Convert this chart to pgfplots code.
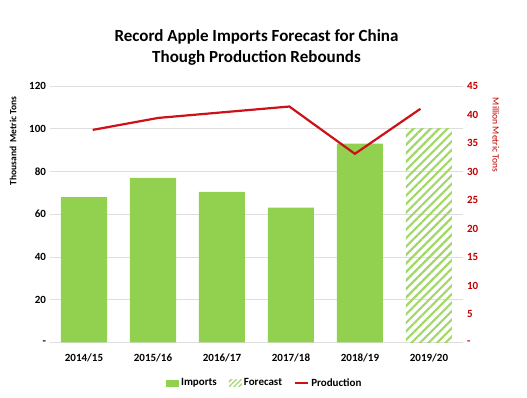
\documentclass[border=0pt]{standalone}
\usepackage{pgfplots}
\pgfplotsset{compat=1.18}
\usepackage{fontspec}
\setmainfont{Carlito}
\usetikzlibrary{patterns.meta}
\definecolor{barg}{HTML}{92D050}
\definecolor{linered}{HTML}{CC1119}
\definecolor{axred}{HTML}{C00000}
\begin{document}
\begin{tikzpicture}[x=1pt,y=1pt]
\useasboundingbox (0,0) rectangle (527,398);
\begin{axis}[
  at={(49.5pt,55.5pt)}, anchor=south west,
  scale only axis, width=414pt, height=256.5pt,
  xmin=-0.5, xmax=5.5, ymin=0, ymax=120,
  axis y line*=left, axis x line*=bottom,
  axis line style={draw=none},
  ytick={0,20,...,120}, yticklabels={-,20,40,60,80,100,120},
  xtick={0,...,5}, xticklabels={2014/15,2015/16,2016/17,2017/18,2018/19,2019/20},
  tick style={draw=none},
  /pgf/number format/assume math mode=true,
  ymajorgrids, grid style={draw=black!13, line width=0.7pt},
  tick label style={font=\fontsize{11}{13}\selectfont\bfseries},
  xticklabel style={yshift=-7.5pt},
  ylabel={Thousand\ \ Metric Tons},
  ylabel style={font=\fontsize{9.5}{11}\selectfont\bfseries, at={(axis description cs:-0.088,0.786)}, anchor=center},
  title={Record Apple Imports Forecast for China\\Though Production Rebounds},
  title style={font=\fontsize{17}{21}\selectfont\bfseries, align=center, at={(axis description cs:0.5,1.125)}, anchor=center},
]
\addplot[ybar, bar width=46pt, bar shift=0pt, fill=barg, draw=none] coordinates {(0,68.0) (1,77.0) (2,70.5) (3,63.1) (4,93.0)};
\addplot[ybar, bar width=46pt, bar shift=0pt, draw=none, pattern={Lines[angle=45,distance=6pt,line width=2.2pt]}, pattern color=barg!85] coordinates {(5,100)};
\end{axis}
\begin{axis}[
  at={(49.5pt,55.5pt)}, anchor=south west,
  scale only axis, width=414pt, height=256.5pt,
  xmin=-0.5, xmax=5.5, ymin=0, ymax=45,
  axis y line*=right, axis x line=none,
  axis line style={draw=none},
  ytick={0,5,...,45}, yticklabels={-,5,10,15,20,25,30,35,40,45},
  tick style={draw=none},
  /pgf/number format/assume math mode=true,
  yticklabel style={font=\fontsize{11}{13}\selectfont\bfseries, text=axred},
  ylabel={Million Metric Tons},
  ylabel style={font=\fontsize{9.5}{11}\selectfont, text=axred, rotate=180, at={(axis description cs:1.078,0.809)}, anchor=center},
  legend columns=3,
  legend style={draw=none, fill=none, at={(axis description cs:0.52,-0.158)}, anchor=center, font=\fontsize{11}{13}\selectfont\bfseries, /tikz/every even column/.append style={column sep=10pt}},
]
\addlegendimage{draw=none, legend image code/.code={\fill[barg, draw=none] (0pt,-3.5pt) rectangle (13pt,3.5pt);}}
\addlegendentry{Imports}
\addlegendimage{draw=none, legend image code/.code={\path[draw=none, pattern={Lines[angle=45,distance=3.5pt,line width=1.3pt]}, pattern color=barg!85] (0pt,-3.5pt) rectangle (13pt,3.5pt);}}
\addlegendentry{Forecast}
\addplot[linered, line width=2.2pt, mark=none, legend image code/.code={\draw[linered, line width=2.2pt] (0pt,0pt) -- (13pt,0pt);}] coordinates {(0.126,37.3) (1.076,39.4) (2.026,40.4) (2.976,41.4) (3.926,33.1) (4.876,41.0)};
\addlegendentry{Production}
\end{axis}
\end{tikzpicture}
\end{document}
